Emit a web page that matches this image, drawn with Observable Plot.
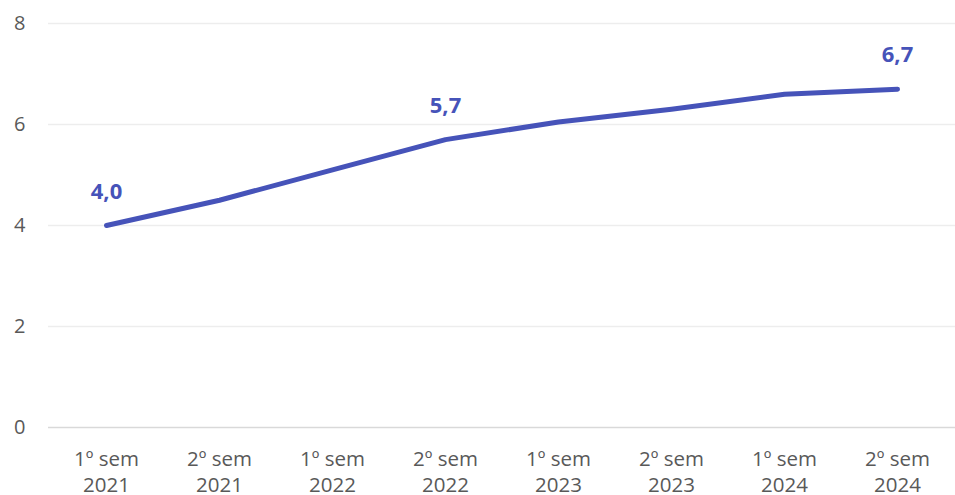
<!DOCTYPE html>
<html>
<head>
<meta charset="utf-8">
<script src="https://cdn.jsdelivr.net/npm/d3@7"></script>
<script src="https://cdn.jsdelivr.net/npm/@observablehq/plot@0.6"></script>
<style>
  html, body { margin: 0; padding: 0; background: #ffffff; }
  #chart svg { display: block; }
</style>
</head>
<body>
<div id="chart"></div>
<script>
// Semesters shown on the horizontal axis (two-line labels)
const semesters = ["1º sem", "2º sem", "1º sem", "2º sem", "1º sem", "2º sem", "1º sem", "2º sem"];
const years = ["2021", "2021", "2022", "2022", "2023", "2023", "2024", "2024"];
// Series values per semester
const values = [4.0, 4.5, 5.1, 5.7, 6.05, 6.3, 6.6, 6.7];
// Points that carry a value label
const labeledIndex = [0, 3, 7];
// Y axis ticks
const yTicks = [0, 2, 4, 6, 8];

const periods = semesters.map((s, i) => `${s}\n${years[i]}`);
const data = periods.map((p, i) => ({period: p, value: values[i], labeled: labeledIndex.includes(i)}));

const lineColor = "#4653B9";
const textColor = "#595959";
const font = "'Open Sans', 'Noto Sans', sans-serif";

const chart = Plot.plot({
  width: 955,
  height: 495,
  marginLeft: 48,
  marginRight: 0,
  marginTop: 23,
  marginBottom: 68,
  style: {fontFamily: font, background: "#ffffff"},
  x: {type: "point", domain: periods, padding: 0.5, label: null},
  y: {domain: [0, 8], label: null},
  marks: [
    Plot.gridY(yTicks.filter(d => d > 0), {stroke: "#ededed", strokeOpacity: 1, strokeWidth: 1.5}),
    Plot.ruleY([0], {stroke: "#d9d9d9", strokeWidth: 1.5}),
    Plot.axisY(yTicks, {
      tickSize: 0,
      tickPadding: 23,
      tickFormat: d => String(d),
      fontSize: 20,
      fill: textColor,
      label: null
    }),
    Plot.axisX({
      tickSize: 0,
      tickPadding: 20,
      fontSize: 20.5,
      lineHeight: 1.27,
      fill: textColor,
      label: null
    }),
    Plot.line(data, {
      x: "period",
      y: "value",
      stroke: lineColor,
      strokeWidth: 5,
      strokeLinecap: "round",
      strokeLinejoin: "round"
    }),
    Plot.text(data.filter(d => d.labeled), {
      x: "period",
      y: "value",
      text: d => d.value.toFixed(1).replace(".", ","),
      dy: -34,
      fontSize: 22,
      fontWeight: "bold",
      fill: lineColor
    })
  ]
});

document.getElementById("chart").append(chart);
</script>
</body>
</html>
